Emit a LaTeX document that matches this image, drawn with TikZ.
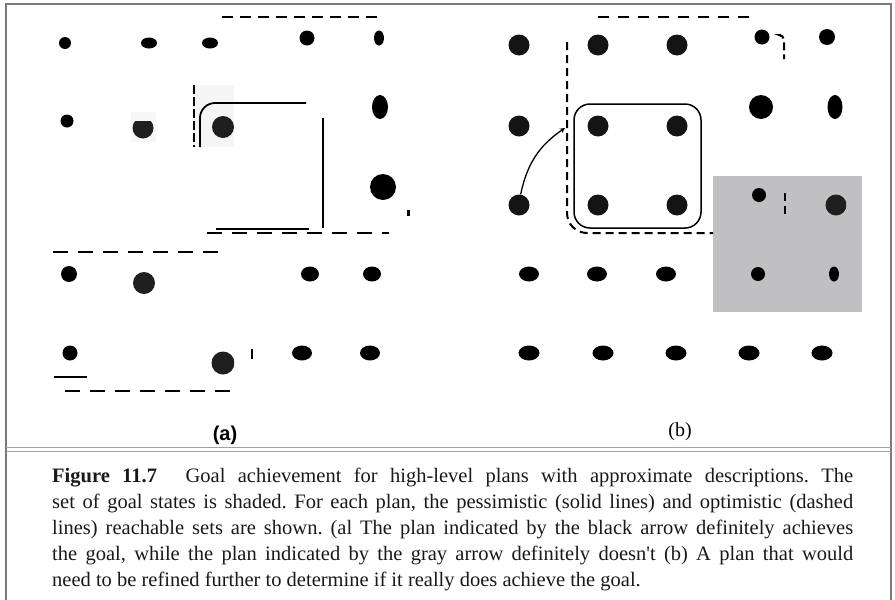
\documentclass[tikz,border=0pt]{standalone}
\usepackage{fontspec}
\setmainfont{Liberation Serif}
\newfontfamily\labelfont{Liberation Sans}
\usetikzlibrary{shapes.geometric}
\definecolor{goalgray}{HTML}{C0C0C2}
\definecolor{framegray}{HTML}{7A7A7A}
\tikzset{
  spot/.style={circle, fill=black, inner sep=0pt, minimum size=#1},
  oval/.style 2 args={ellipse, fill=black, inner sep=0pt, minimum width=#1, minimum height=#2},
  optim/.style={line width=2.5pt, dash pattern=on 15pt off 10pt},
  pessim/.style={line width=1.8pt},
}

\begin{document}
\begin{tikzpicture}[x=1pt, y=-1pt, >=stealth]
        \useasboundingbox (0,0) rectangle (895,600);
        % Rahmen
        \draw[framegray, line width=1.5pt] (6,600) -- (6,4) -- (891,4) -- (891,600);
        \draw[framegray!70, line width=1pt] (6,447) -- (891,447) (6,451) -- (891,451);

        % Teil (a): Flecken
        \fill[black!4] (193,85) rectangle (234,147);
        \fill[black!3] (131,112) rectangle (156,142);

        % Teil (a): Zustaende
        \node[spot=12] (a11) at (65,43) {};
        \node[oval={16}{11}] (a12) at (149,43) {};
        \node[oval={16}{11}] (a13) at (210,43) {};
        \node[spot=15] (a14) at (307,38) {};
        \node[oval={10}{15}] (a15) at (379,38) {};
        \node[spot=13] (a21) at (67,121) {};
        \begin{scope}
          \clip (130,121) rectangle (160,142);
          \node[spot=21, fill=black!88] (a22) at (143,128) {};
        \end{scope}
        \node[spot=22, fill=black!88] (a23) at (223,127) {};
        \node[oval={16}{24}] (a25) at (380,107) {};
        \node[spot=26] (a35) at (383,187) {};
        \node[spot=16] (a41) at (69,274) {};
        \node[spot=22, fill=black!88] (a42) at (144,283) {};
        \node[oval={18}{15}] (a44) at (310,274) {};
        \node[oval={18}{15}] (a45) at (372,274) {};
        \node[spot=15] (a51) at (70,353) {};
        \begin{scope}
          \clip (210,340) rectangle (234,380);
          \node[spot=23, fill=black!88] (a53) at (223,363) {};
        \end{scope}
        \node[oval={20}{15}] (a54) at (302,353) {};
        \node[oval={20}{15}] (a55) at (370,353) {};

        % Teil (a): erreichbare Mengen
        \draw[optim, dash pattern=on 11pt off 7pt] (222,17) -- (383,17);
        \draw[line width=1.5pt, dash pattern=on 9pt off 3pt] (194,85) -- (194,147);
        \draw[pessim, rounded corners=15] (200,147) |- (306,103);
        \draw[pessim] (323,118) -- (323,228);
        \draw[pessim] (216,229) -- (309,229);
        \draw[optim] (207,233) -- (389,233);
        \draw[optim] (53,252) -- (220,252);
        \draw[pessim, line width=2.5pt] (54,377) -- (87,377);
        \draw[optim] (65,391) -- (232,391);
        \draw[line width=3pt] (408,210) -- (408,216);
        \draw[line width=2.5pt] (252,349) -- (252,359);

        % Teil (b): Ziel
        \fill[goalgray] (713,176) rectangle (862,312);

        % Teil (b): Zustaende
        \foreach \row/\y in {1/45, 2/126, 3/205} {
          \node[spot=21, fill=black!92] (b\row1) at (519,\y) {};
          \node[spot=21, fill=black!92] (b\row2) at (598,\y) {};
          \node[spot=21, fill=black!92] (b\row3) at (677,\y) {};
        }
        \node[spot=15] (b14) at (762,37) {};
        \node[spot=16] (b15) at (827,37) {};
        \node[spot=24] (b24) at (761,107) {};
        \node[oval={15}{24}] (b25) at (835,107) {};
        \node[spot=14] (b34) at (759,195) {};
        \begin{scope}
          \clip (820,190) rectangle (846,220);
          \node[spot=21, fill=black!88] (b35) at (836,205) {};
        \end{scope}
        \node[oval={20}{15}] (b41) at (529,274) {};
        \node[oval={20}{15}] (b42) at (597,274) {};
        \node[oval={20}{15}] (b43) at (666,274) {};
        \node[spot=14] (b44) at (758,274) {};
        \node[oval={10}{15}] (b45) at (834,274) {};
        \foreach \col/\x in {1/529, 2/603, 3/676, 4/749, 5/822}
          \node[oval={21}{15}] (b5\col) at (\x,353) {};

        % Teil (b): erreichbare Mengen und Plan
        \draw[line width=2pt, dash pattern=on 11pt off 9pt] (598,17) -- (758,17);
        \draw[line width=2pt, dash pattern=on 8pt off 5pt, rounded corners=20] (567,42) |- (713,233);
        \draw[line width=2pt, dash pattern=on 8pt off 4pt, rounded corners=5] (781,35) -| (784,59);
        \draw[line width=2pt, dash pattern=on 8pt off 5pt] (785,193) -- (785,217);
        \draw[pessim, line width=1.5pt, rounded corners=16] (574,104) rectangle (701,228);
        \coordinate (tip) at (565,128);
        \draw[->, line width=1.3pt] (b31) to[bend left=22] (tip);

        % Beschriftungen
        \node[font=\labelfont\bfseries\fontsize{20}{20}\selectfont] (lbla) at (225,435) {(a)};
        \node[font=\fontsize{20}{20}\selectfont] (lblb) at (680,432) {(b)};
        \node[anchor=north west, inner sep=0pt, text width=801pt, align=justify,
              font=\fontsize{20.5}{26}\selectfont\frenchspacing, text=black!90] (caption) at (52,468)
          {\textbf{Figure 11.7}\hspace{1.4em}Goal achievement for high-level plans with approximate descriptions. The\linebreak
           set of goal states is shaded. For each plan, the pessimistic (solid lines) and optimistic (dashed\linebreak
           lines) reachable sets are shown. (al The plan indicated by the black arrow definitely achieves\linebreak
           the goal, while the plan indicated by the gray arrow definitely doesn\textquotesingle t (b) A plan that would\linebreak
           need to be refined further to determine if it really does achieve the goal.};
    \end{tikzpicture}
\end{document}
